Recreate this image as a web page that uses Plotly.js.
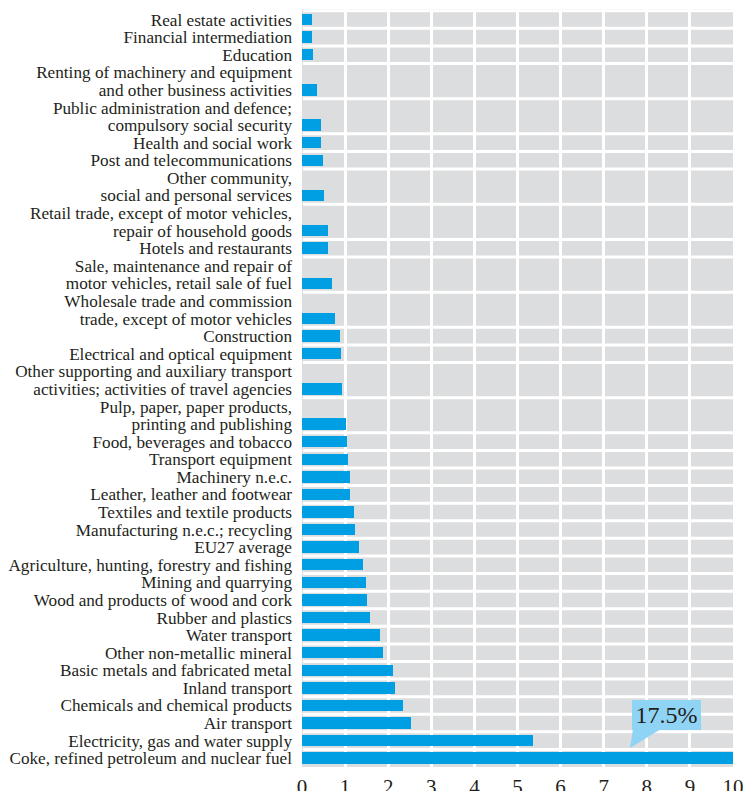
<!DOCTYPE html>
<html>
<head>
<meta charset="utf-8">
<script src="https://cdn.plot.ly/plotly-3.0.1.min.js"></script>
<style>html,body{margin:0;padding:0;background:#fff;}#chart{width:744px;height:791px;}</style>
</head>
<body>
<div id="chart"></div>
<script>
const categories = [
  "Real estate activities",
  "Financial intermediation",
  "Education",
  "Renting of machinery and equipment<br>and other business activities",
  "Public administration and defence;<br>compulsory social security",
  "Health and social work",
  "Post and telecommunications",
  "Other community,<br>social and personal services",
  "Retail trade, except of motor vehicles,<br>repair of household goods",
  "Hotels and restaurants",
  "Sale, maintenance and repair of<br>motor vehicles, retail sale of fuel",
  "Wholesale trade and commission<br>trade, except of motor vehicles",
  "Construction",
  "Electrical and optical equipment",
  "Other supporting and auxiliary transport<br>activities; activities of travel agencies",
  "Pulp, paper, paper products,<br>printing and publishing",
  "Food, beverages and tobacco",
  "Transport equipment",
  "Machinery n.e.c.",
  "Leather, leather and footwear",
  "Textiles and textile products",
  "Manufacturing n.e.c.; recycling",
  "EU27 average",
  "Agriculture, hunting, forestry and fishing",
  "Mining and quarrying",
  "Wood and products of wood and cork",
  "Rubber and plastics",
  "Water transport",
  "Other non-metallic mineral",
  "Basic metals and fabricated metal",
  "Inland transport",
  "Chemicals and chemical products",
  "Air transport",
  "Electricity, gas and water supply",
  "Coke, refined petroleum and nuclear fuel"
];
const values = [
  0.23, 0.23, 0.26, 0.35, 0.44, 0.44, 0.49, 0.51, 0.60, 0.60,
  0.70, 0.77, 0.88, 0.90, 0.93, 1.01, 1.04, 1.07, 1.12, 1.12,
  1.21, 1.22, 1.32, 1.42, 1.48, 1.51, 1.58, 1.81, 1.87, 2.11,
  2.16, 2.34, 2.53, 5.36, 17.5
];
const xTicks = [0,1,2,3,4,5,6,7,8,9,10];

// layout of rows: each label line occupies one slot, bar sits on the last line
const barY = [], tickVals = [], tickText = [], bounds = [];
let slot = 0;
categories.forEach(c => {
  const lines = c.split('<br>');
  bounds.push(slot);
  lines.forEach((ln, j) => { tickVals.push(slot + j + 0.5); tickText.push(ln); });
  barY.push(slot + lines.length - 0.5);
  slot += lines.length;
});
const totalSlots = slot;

const W = 744, H = 791, L = 302, R = 11, T = 9, B = 24;
const pw = W - L - R, ph = H - T - B;
const px = x => (x - L) / pw;
const py = y => 1 - (y - T) / ph;

const FONT = "Liberation Serif, Times New Roman, serif";
const TXT = "#231f20";

const shapes = bounds.map(b => ({
  type: 'line', xref: 'paper', x0: 0, x1: 1, yref: 'y', y0: b, y1: b,
  line: {color: '#ffffff', width: 3}, layer: 'between'
}));
// callout pointer
shapes.push({
  type: 'path', xref: 'paper', yref: 'paper',
  path: `M ${px(633)},${py(729)} L ${px(661)},${py(729)} L ${px(630)},${py(748)} Z`,
  fillcolor: '#8fd4f5', line: {width: 0}, layer: 'above'
});

const data = [{
  type: 'bar', orientation: 'h',
  x: values, y: barY, width: 0.65,
  marker: {color: '#009fe3', line: {width: 0}},
  hoverinfo: 'x'
}];

const layout = {
  width: W, height: H,
  margin: {l: L, r: R, t: T, b: B, pad: 0},
  paper_bgcolor: '#ffffff', plot_bgcolor: '#dcdddf',
  showlegend: false, bargap: 0,
  font: {family: FONT, color: TXT},
  xaxis: {
    range: [0, 10], tickvals: xTicks, ticktext: xTicks.map(String),
    showgrid: true, gridcolor: '#ffffff', gridwidth: 3,
    zeroline: true, zerolinecolor: '#dcdddf', zerolinewidth: 1,
    showline: false, ticks: '', ticklabelstandoff: 5,
    tickfont: {family: FONT, size: 21, color: TXT}, fixedrange: true
  },
  yaxis: {
    range: [totalSlots, -0.1], tickvals: tickVals, ticktext: tickText,
    showgrid: false, zeroline: false, showline: false, ticks: '',
    ticklabelstandoff: 9,
    tickfont: {family: FONT, size: 17.2, color: TXT}, fixedrange: true
  },
  shapes: shapes,
  annotations: [{
    xref: 'paper', yref: 'paper', x: px(666.5), y: py(714.5),
    xanchor: 'center', yanchor: 'middle', showarrow: false,
    text: values[values.length - 1].toFixed(1) + '%',
    font: {family: FONT, size: 24, color: TXT},
    bgcolor: '#8fd4f5', width: 69, height: 30, borderpad: 0, borderwidth: 0
  }]
};

Plotly.newPlot('chart', data, layout, {displayModeBar: false, staticPlot: true});
</script>
</body>
</html>
